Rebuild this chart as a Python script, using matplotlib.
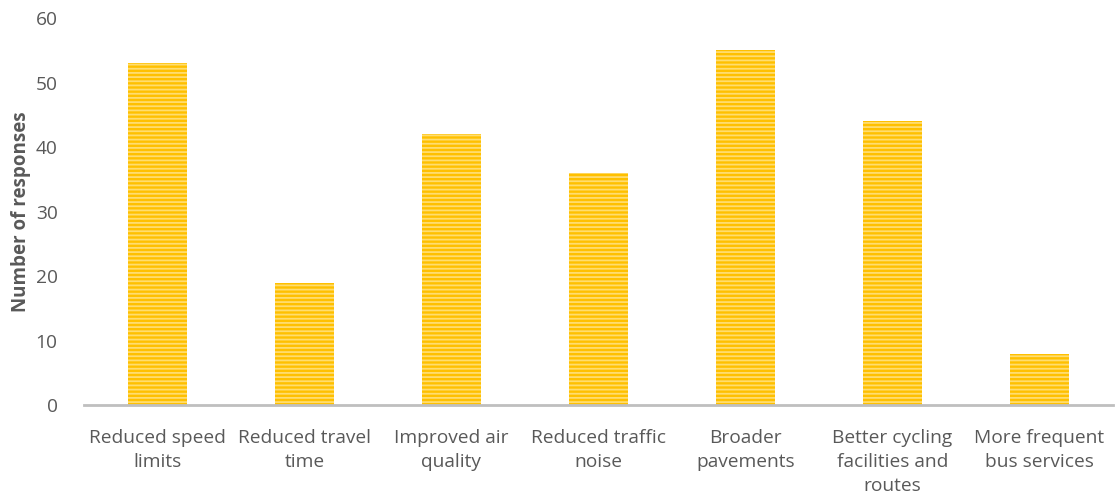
import matplotlib
matplotlib.use("Agg")
import matplotlib.pyplot as plt

categories = ["Reduced speed\nlimits", "Reduced travel\ntime", "Improved air\nquality",
              "Reduced traffic\nnoise", "Broader\npavements", "Better cycling\nfacilities and\nroutes",
              "More frequent\nbus services"]
responses = [53, 19, 42, 36, 55, 44, 8]
yticks = [0, 10, 20, 30, 40, 50, 60]

plt.rcParams["font.family"] = ["Open Sans", "DejaVu Sans"]
plt.rcParams["hatch.linewidth"] = 1.3
plt.rcParams["hatch.color"] = "#FFDD70"

fig = plt.figure(figsize=(11.16, 4.99), dpi=100)
ax = fig.add_axes([0.0753, 0.188, 0.9217, 0.776])

x = range(len(categories))
bars = ax.bar(x, responses, width=0.4, color="#FFC000", hatch="----",
              edgecolor="#FFDD70", linewidth=0)

ax.set_xlim(-0.5, len(categories) - 0.5)
ax.set_ylim(0, 60)
ax.set_yticks(yticks)
ax.set_xticks(list(x))
ax.set_xticklabels(categories, fontsize=13.8, color="#595959", linespacing=1.42)
ax.tick_params(axis="y", labelsize=13.8, labelcolor="#595959", length=0, pad=19)
ax.tick_params(axis="x", length=0, pad=17)

for side in ["top", "right", "left"]:
    ax.spines[side].set_visible(False)
ax.spines["bottom"].set_color("#BFBFBF")
ax.spines["bottom"].set_linewidth(2)

ax.set_ylabel("Number of responses", fontsize=13.5, fontweight="bold", color="#595959", labelpad=3)

fig.savefig("out.png", dpi=100)
